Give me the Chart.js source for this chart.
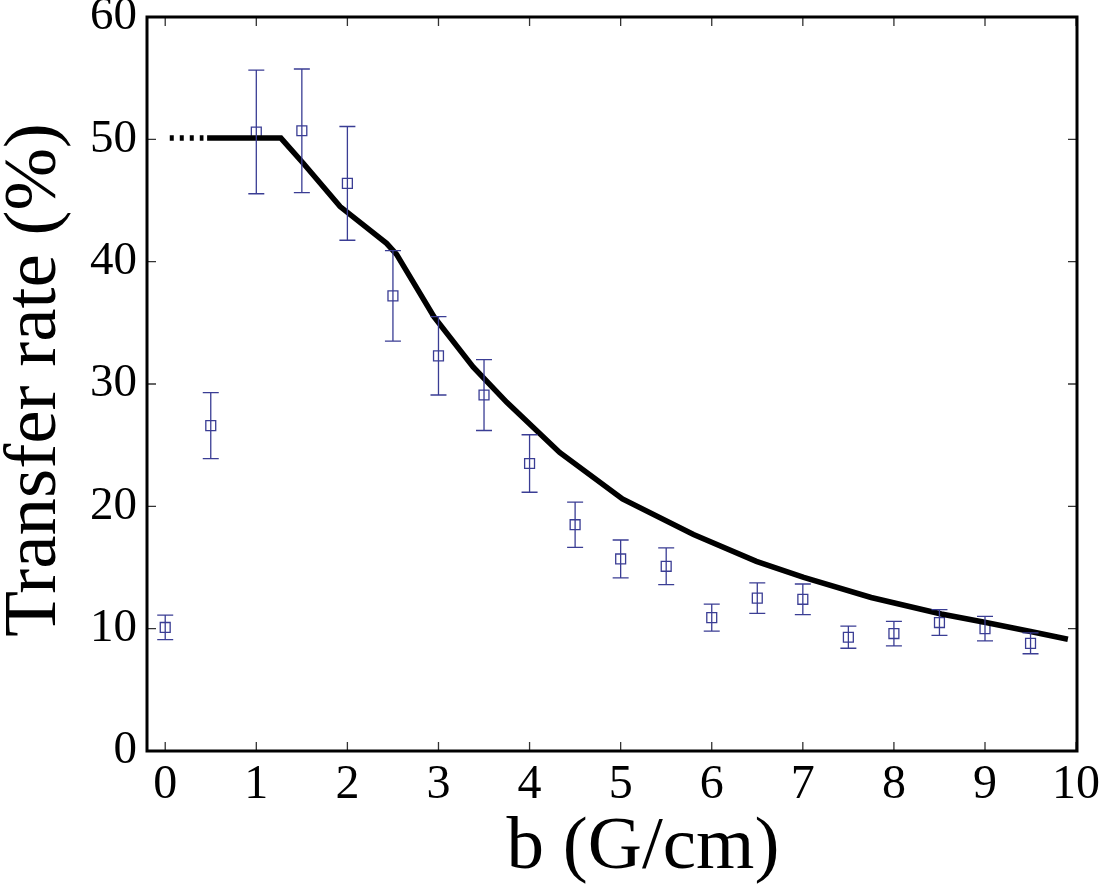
<!DOCTYPE html>
<html>
<head>
<meta charset="utf-8">
<script src="https://cdn.jsdelivr.net/npm/chart.js@4.4.1/dist/chart.umd.min.js"></script>
<style>
  html, body { margin: 0; padding: 0; background: #fff; }
  #wrap { width: 1106px; height: 887px; }
</style>
</head>
<body>
<div id="wrap"><canvas id="rateChart" width="1106" height="887"></canvas></div>
<script>
// measured points (b in G/cm, transfer rate in %, half error bar)
const bValues = [0, 0.5, 1, 1.5, 2, 2.5, 3, 3.5, 4, 4.5, 5, 5.5, 6, 6.5, 7, 7.5, 8, 8.5, 9, 9.5];
const rates = [10.1, 26.6, 50.6, 50.7, 46.4, 37.2, 32.3, 29.1, 23.5, 18.5, 15.7, 15.1, 10.9, 12.5, 12.4, 9.3, 9.6, 10.5, 10.0, 8.8];
const rateErr = [1.0, 2.7, 5.05, 5.05, 4.65, 3.7, 3.2, 2.9, 2.35, 1.85, 1.55, 1.5, 1.1, 1.25, 1.25, 0.9, 1.0, 1.05, 1.0, 0.85];

// model curve
const curveB = [0.46, 1.27, 1.52, 1.92, 2.43, 2.54, 2.95, 3.38, 3.75, 4.33, 5.02, 5.8, 6.49, 7.01, 7.75, 8.52, 9.01, 9.5, 9.91];
const curveRate = [50.1, 50.1, 48.0, 44.5, 41.5, 40.6, 35.5, 31.4, 28.5, 24.4, 20.6, 17.7, 15.5, 14.2, 12.55, 11.2, 10.5, 9.77, 9.14];
const dottedB = [0.05, 0.42];
const dottedRate = [50.1, 50.1];

const xTicks = [0, 1, 2, 3, 4, 5, 6, 7, 8, 9, 10];
const yTicks = [0, 10, 20, 30, 40, 50, 60];

const BLUE = '#3a3d94';
const SERIF = "'Liberation Serif', 'Times New Roman', serif";

function zip(xs, ys) {
  return xs.map((x, i) => ({ x, y: ys[i] }));
}

const errorBars = {
  id: 'errorBars',
  afterDatasetsDraw(chart) {
    const { ctx, scales: { x, y } } = chart;
    ctx.save();
    ctx.strokeStyle = BLUE;
    ctx.lineWidth = 1.3;
    bValues.forEach((b, i) => {
      const px = x.getPixelForValue(b);
      const top = y.getPixelForValue(rates[i] + rateErr[i]);
      const bot = y.getPixelForValue(rates[i] - rateErr[i]);
      ctx.beginPath();
      ctx.moveTo(px, top); ctx.lineTo(px, bot);
      ctx.moveTo(px - 8, top); ctx.lineTo(px + 8, top);
      ctx.moveTo(px - 8, bot); ctx.lineTo(px + 8, bot);
      ctx.stroke();
    });
    ctx.restore();
  }
};

const frame = {
  id: 'frame',
  afterDraw(chart) {
    const { ctx, chartArea: a, scales: { x, y } } = chart;
    ctx.save();
    ctx.strokeStyle = '#333';
    ctx.lineWidth = 1.3;
    ctx.beginPath();
    xTicks.forEach(v => {
      const px = x.getPixelForValue(v);
      ctx.moveTo(px, a.bottom); ctx.lineTo(px, a.bottom - 9);
      ctx.moveTo(px, a.top); ctx.lineTo(px, a.top + 9);
    });
    yTicks.forEach(v => {
      const py = y.getPixelForValue(v);
      ctx.moveTo(a.left, py); ctx.lineTo(a.left + 9, py);
      ctx.moveTo(a.right, py); ctx.lineTo(a.right - 9, py);
    });
    ctx.stroke();
    ctx.strokeStyle = '#000';
    ctx.lineWidth = 3;
    ctx.strokeRect(a.left, a.top, a.right - a.left, a.bottom - a.top);

    // axis titles
    ctx.fillStyle = '#000';
    ctx.font = '75px ' + SERIF;
    ctx.textAlign = 'center';
    ctx.textBaseline = 'alphabetic';
    ctx.fillText('b (G/cm)', 643, 868);
    ctx.translate(55, (a.top + a.bottom) / 2 - 4);
    ctx.rotate(-Math.PI / 2);
    ctx.fillText('Transfer rate (%)', 0, 0);
    ctx.restore();
  }
};

new Chart(document.getElementById('rateChart'), {
  type: 'scatter',
  data: {
    datasets: [
      {
        label: 'Model',
        data: zip(curveB, curveRate),
        showLine: true,
        borderColor: '#000',
        borderWidth: 5.5,
        pointRadius: 0,
        tension: 0
      },
      {
        label: 'Model (extrapolated)',
        data: zip(dottedB, dottedRate),
        showLine: true,
        borderColor: '#000',
        borderWidth: 5.5,
        borderDash: [4, 6],
        pointRadius: 0
      },
      {
        label: 'Measured',
        data: zip(bValues, rates),
        showLine: false,
        pointStyle: 'rect',
        pointRadius: 7,
        pointBorderWidth: 1.3,
        pointBorderColor: BLUE,
        pointBackgroundColor: 'rgba(0,0,0,0)'
      }
    ]
  },
  options: {
    responsive: false,
    animation: false,
    layout: { padding: { top: 17, right: 29, left: 0, bottom: 0 } },
    plugins: { legend: { display: false }, tooltip: { enabled: false } },
    scales: {
      x: {
        type: 'linear',
        min: -0.2,
        max: 10.01,
        grid: { display: false, drawTicks: false },
        border: { display: false },
        afterBuildTicks: s => { s.ticks = xTicks.map(v => ({ value: v })); },
        afterFit: s => { s.height = 136; s.paddingLeft = 0; s.paddingRight = 0; },
        ticks: { color: '#000', padding: 6, font: { family: SERIF, size: 48 }, maxRotation: 0 }
      },
      y: {
        type: 'linear',
        min: 0,
        max: 60,
        grid: { display: false, drawTicks: false },
        border: { display: false },
        afterBuildTicks: s => { s.ticks = yTicks.map(v => ({ value: v })); },
        afterFit: s => { s.width = 147; s.paddingTop = 0; s.paddingBottom = 0; },
        ticks: { color: '#000', padding: 10, font: { family: SERIF, size: 47 } }
      }
    }
  },
  plugins: [errorBars, frame]
});
</script>
</body>
</html>
